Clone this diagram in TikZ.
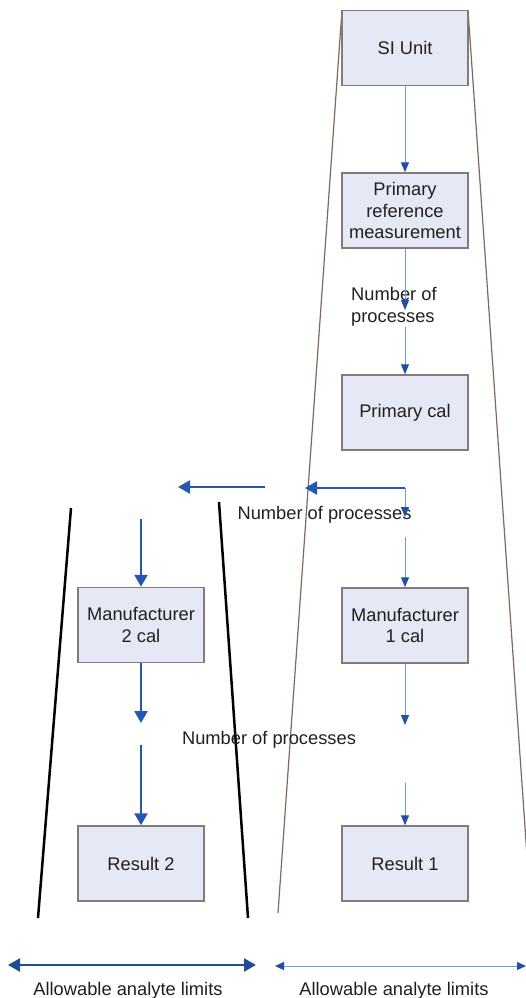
\documentclass[tikz,border=0pt]{standalone}
\usepackage{fontspec}
\setmainfont{Liberation Sans}
\usetikzlibrary{arrows.meta}
\definecolor{boxfill}{HTML}{E4E9F5}
\definecolor{boxline}{HTML}{857A7A}
\definecolor{thinblue}{HTML}{6E9AD6}
\definecolor{headblue}{HTML}{1F4FA8}
\definecolor{thickblue}{HTML}{2557AE}
\definecolor{darkblue}{HTML}{1F4E96}
\definecolor{brownline}{HTML}{7A6A62}
\definecolor{txt}{HTML}{231F20}
\begin{document}
\begin{tikzpicture}[x=1pt,y=-1pt,
  stage/.style={draw=boxline, line width=1.5pt, fill=boxfill, minimum width=126pt,
    minimum height=75pt, inner sep=0pt, align=center,
    font=\fontsize{18.3}{21.5}\selectfont, text=txt},
  lbl/.style={inner sep=0pt, font=\fontsize{18.3}{21.5}\selectfont, text=txt},
  thinarrow/.style={draw=thinblue, line width=1pt,
    -{Triangle[length=10pt,width=8pt,color=headblue]}},
  thickarrow/.style={draw=thickblue, line width=2.5pt,
    -{Triangle[length=12pt,width=13pt]}},
  blackline/.style={draw=black, line width=2.5pt},
  brown/.style={draw=brownline, line width=1.2pt}]
\useasboundingbox (0,0) rectangle (526,998);

% trapezoid (drawn first, behind boxes)
\begin{scope}
  \clip (0,0) rectangle (526,998);
  \draw[brown] (342,10) -- (278,913);
  \draw[brown] (468,10) -- (531,913);
\end{scope}
\draw[blackline] (71,508) -- (38,918);
\draw[blackline] (219,502) -- (248,918);

% boxes
\node[stage] (si) at (405,48) {SI Unit};
\node[stage] (prm) at (405,210.5) {Primary\\reference\\measurement};
\node[stage] (pcal) at (405,412.5) {Primary cal};
\node[stage] (m1) at (405,625.5) {Manufacturer\\1 cal};
\node[stage] (r1) at (405,863.5) {Result 1};
\node[stage] (m2) at (141,625) {Manufacturer\\2 cal};
\node[stage] (r2) at (141,863.5) {Result 2};

% labels
\node[lbl, align=left, anchor=west] (np1) at (351,307) {Number of\\processes};
\node[lbl, anchor=base] (np2) at (324.5,519) {Number of processes};
\node[lbl, anchor=base] (np3) at (269,744) {Number of processes};
\node[lbl, anchor=base] (al1) at (128,995) {Allowable analyte limits};
\node[lbl, anchor=base] (al2) at (394,995) {Allowable analyte limits};

% coordinates
\coordinate (c1) at (405,310);
\coordinate (c2) at (405,327);
\coordinate (corner) at (405,488);
\coordinate (hA) at (305,488);
\coordinate (hB1) at (265,487);
\coordinate (hB2) at (178,487);
\coordinate (c3) at (405,517);
\coordinate (c4) at (405,537);
\coordinate (c5) at (405,725);
\coordinate (c6) at (405,783);
\coordinate (l1) at (141,519);
\coordinate (l2) at (141,723);
\coordinate (l3) at (141,745);
\coordinate (bl1) at (8,965);
\coordinate (bl2) at (256,965);
\coordinate (br1) at (275,966);
\coordinate (br2) at (526,966);

% right column
\draw[thinarrow] (si.south) -- (prm.north);
\draw[thinarrow] (prm.south) -- (c1);
\draw[thinarrow] (c2) -- (pcal.north);
\draw[thickarrow] (corner) -- (hA);
\draw[thickarrow] (hB1) -- (hB2);
\draw[thinarrow] (corner) -- (c3);
\draw[thinarrow] (c4) -- (m1.north);
\draw[thinarrow] (m1.south) -- (c5);
\draw[thinarrow] (c6) -- (r1.north);

% left column
\draw[thickarrow] (l1) -- (m2.north);
\draw[thickarrow] (m2.south) -- (l2);
\draw[thickarrow] (l3) -- (r2.north);

% bottom double arrows
\draw[draw=darkblue, line width=2.5pt,
  {Triangle[length=12pt,width=13pt]}-{Triangle[length=12pt,width=13pt]}] (bl1) -- (bl2);
\draw[draw=thinblue, line width=1pt,
  {Triangle[length=9pt,width=8pt,color=headblue]}-{Triangle[length=9pt,width=8pt,color=headblue]}] (br1) -- (br2);
\end{tikzpicture}
\end{document}
